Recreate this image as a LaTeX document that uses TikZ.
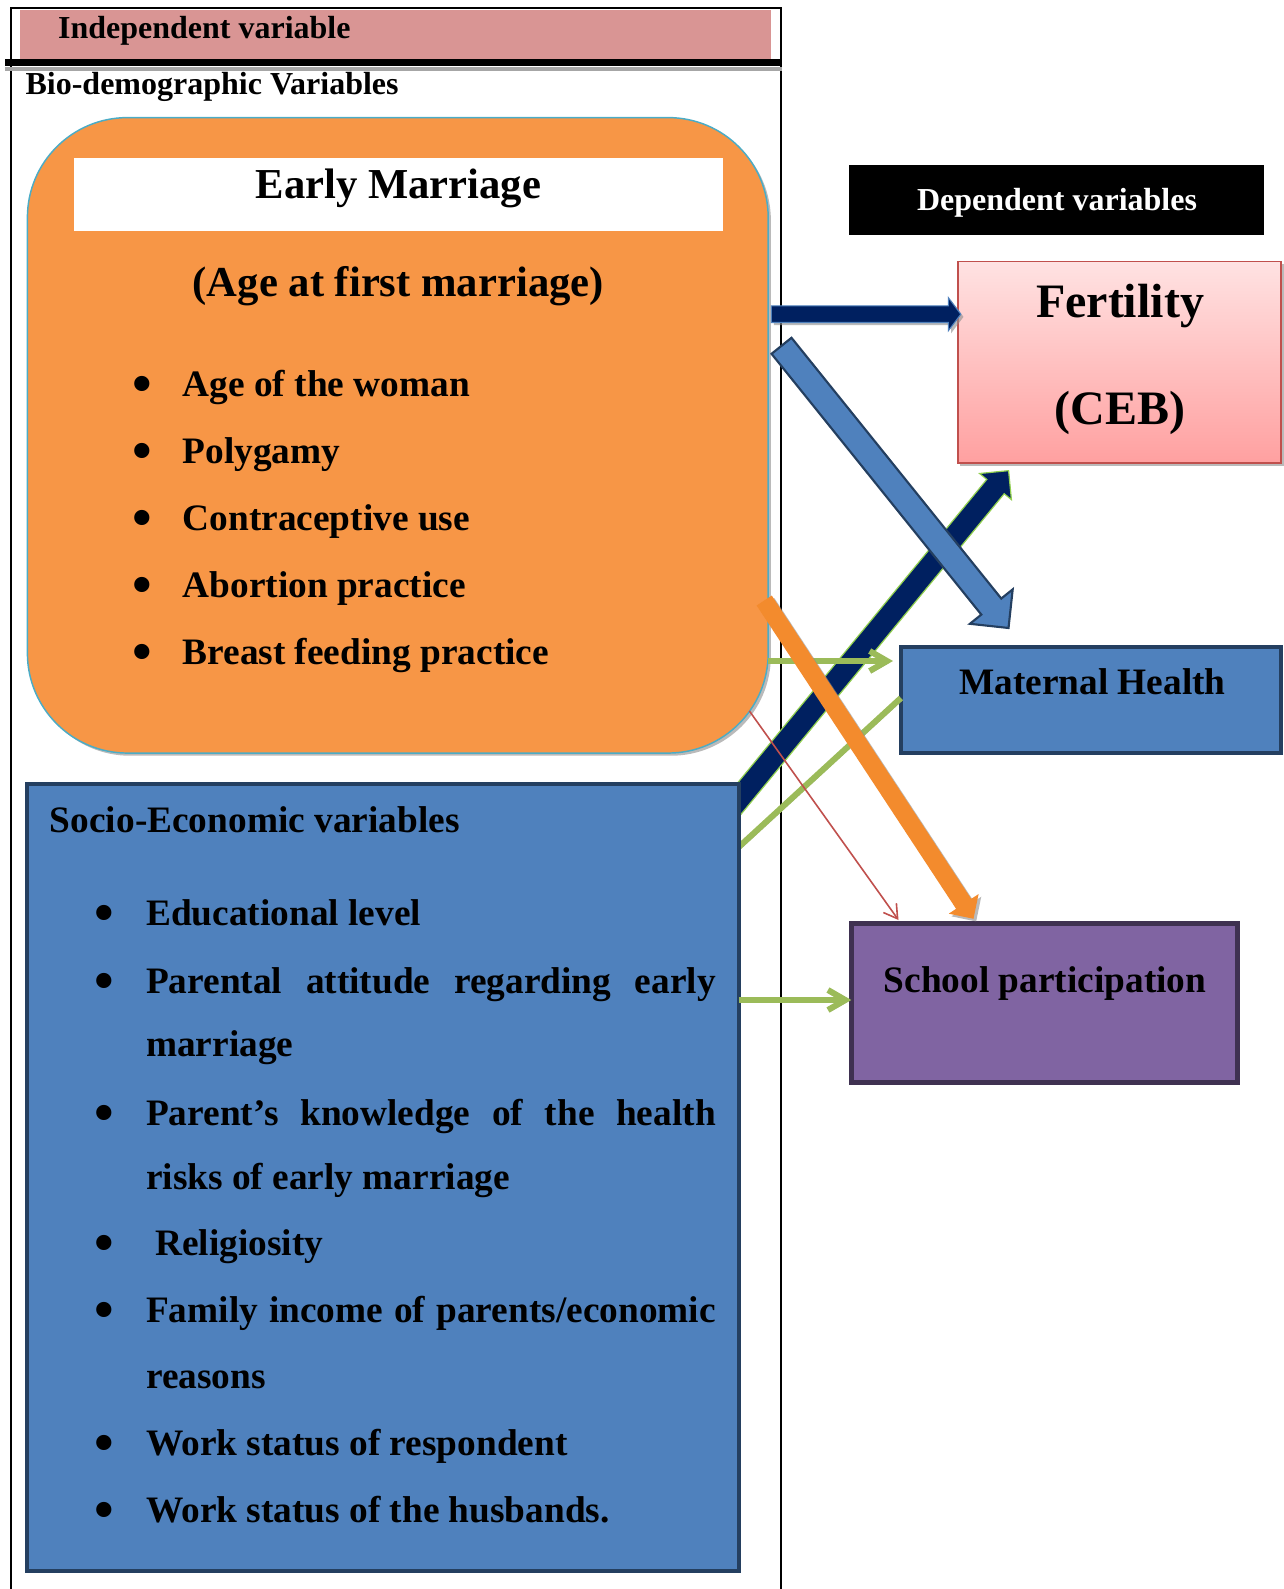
\documentclass[tikz,border=0pt]{standalone}
\usepackage{fontspec}
\setmainfont{Liberation Serif}
\usetikzlibrary{calc,shapes.arrows,shadows,arrows.meta}
\definecolor{hdrpink}{RGB}{217,149,148}
\definecolor{orangeF}{RGB}{247,150,70}
\definecolor{orangeB}{RGB}{75,172,198}
\definecolor{blueF}{RGB}{79,129,189}
\definecolor{blueB}{RGB}{36,63,96}
\definecolor{navy}{RGB}{0,32,96}
\definecolor{purpleF}{RGB}{128,100,162}
\definecolor{purpleB}{RGB}{63,49,81}
\definecolor{redB}{RGB}{192,80,77}
\definecolor{greenL}{RGB}{155,187,89}
\definecolor{greenB}{RGB}{146,208,80}
\definecolor{orangeA}{RGB}{243,139,45}
\definecolor{fertTop}{RGB}{255,226,226}
\definecolor{fertBot}{RGB}{255,160,160}
\newcommand\blockarrow[3]{\path let \p1=($(#3)-(#2)$), \n1={veclen(\x1,\y1)} in (#2) -- node[blk,#1,minimum height=\n1] {} (#3);}
\newcommand\bigbul{\raisebox{-5pt}{\scalebox{1.5}{•}}}
\begin{document}
\begin{tikzpicture}[x=0.75pt,y=-0.75pt,
  t24/.style={font=\fontsize{24}{29}\selectfont\bfseries, inner sep=0pt},
  t28/.style={font=\fontsize{28}{34}\selectfont\bfseries, inner sep=0pt},
  t32/.style={font=\fontsize{32}{38}\selectfont\bfseries, inner sep=0pt},
  t36/.style={font=\fontsize{36}{43}\selectfont\bfseries, inner sep=0pt},
  bul/.style={t28, anchor=base},
  boxn/.style={anchor=north west, inner sep=0pt, outer sep=0pt},
  shad/.style={drop shadow={shadow xshift=2pt, shadow yshift=-2pt, fill=black!45, opacity=0.6}},
  frame/.style={draw=black, line width=1.5pt},
  blk/.style={single arrow, inner xsep=0pt, minimum width=0pt, single arrow head indent=0pt, sloped, allow upside down},
  navyH/.style={fill=navy, draw=blueF, line width=0.8pt, inner ysep=5.8pt, single arrow head extend=6.2pt, single arrow tip angle=106, shad},
  blueD/.style={fill=blueF, draw=blueB, line width=1.6pt, inner ysep=8.8pt, single arrow head extend=11pt, single arrow tip angle=90},
  navyD/.style={fill=navy, draw=greenB, line width=0.9pt, inner ysep=8pt, single arrow head extend=7pt, single arrow tip angle=90},
  orangeD/.style={fill=orangeA, inner ysep=6.6pt, single arrow head extend=6.6pt, single arrow tip angle=90, shad},
  lnshadow/.style={preaction={draw=black!30, transform canvas={xshift=1.2pt,yshift=-1.5pt}}},
  greenarr/.style={draw=greenL, line width=4.5pt, lnshadow},
  redarr/.style={draw=redB, line width=1.2pt, -{Straight Barb[length=10pt,width=12pt]}},
]
\useasboundingbox (0,0) rectangle (1284,1589);

% frame and header
\fill[hdrpink] (20.3,9.5) rectangle (771.2,59);
\draw[frame] (11.1,1589) -- (11.1,8.1) -- (781.3,8.1) -- (781.3,1589);
\draw[line width=3pt, black!35] (5,69) -- (782,69);
\draw[line width=5pt, black] (5,62.7) -- (782,62.7);
\node[t24, anchor=base west] (hdr) at (57.8,38) {Independent variable};
\node[t24, anchor=base west] (biot) at (25.3,94) {Bio-demographic Variables};

% bio-demographic box
\node[boxn, shad, fill=orangeF, draw=orangeB, line width=1.1pt, rounded corners=75pt,
      minimum width=555.6pt, minimum height=476.6pt] (bio) at (27.4,117.6) {};
\node[boxn, fill=white, minimum width=486.4pt, minimum height=54.75pt] (emb) at (74,158) {};
\node[t32, anchor=base] (emt) at (398.3,198.5) {Early Marriage};
\node[t32, anchor=base] (aafm) at (398.3,296) {(Age at first marriage)};
\node[bul] (b1d) at (142,396) {\bigbul};
\node[t28, anchor=base west] (b1) at (182.4,396) {Age of the woman};
\node[bul] (b2d) at (142,463) {\bigbul};
\node[t28, anchor=base west] (b2) at (182.4,463) {Polygamy};
\node[bul] (b3d) at (142,530) {\bigbul};
\node[t28, anchor=base west] (b3) at (182.4,530) {Contraceptive use};
\node[bul] (b4d) at (142,597) {\bigbul};
\node[t28, anchor=base west] (b4) at (182.4,597) {Abortion practice};
\node[bul] (b5d) at (142,664) {\bigbul};
\node[t28, anchor=base west] (b5) at (182.4,664) {Breast feeding practice};

% dependent boxes
\node[boxn, fill=black, minimum width=310.9pt, minimum height=52.4pt] (dep) at (849.2,165.2) {};
\node[t24, anchor=base, text=white] (dept) at (1057,210) {Dependent variables};
\node[boxn, shad, top color=fertTop, bottom color=fertBot, draw=redB, line width=1.4pt,
      minimum width=242.5pt, minimum height=151.2pt] (fert) at (957.7,261.5) {};
\node[t36, anchor=base] (fertt) at (1120,317) {Fertility};
\node[t36, anchor=base] (ceb) at (1120,424) {(CEB)};
\node[boxn, fill=blueF, draw=blueB, line width=3pt, minimum width=285pt, minimum height=79.9pt] (mh) at (900.9,646.5) {};
\node[t28, anchor=base] (mht) at (1092.4,694) {Maternal Health};
\node[boxn, fill=purpleF, draw=purpleB, line width=3.5pt, minimum width=289.6pt, minimum height=119.3pt] (sp) at (851.3,923.2) {};
\node[t28, anchor=base] (spt) at (1045,992) {School participation};

% connector end points
\coordinate (a1s) at (768.2,314.2);  \coordinate (a1e) at (957.7,314.2);
\coordinate (a2s) at (777.5,340.8);  \coordinate (a2e) at (1004.5,623);
\coordinate (a3s) at (725,816);      \coordinate (a3e) at (1005,475);
\coordinate (a4s) at (761.7,596.7);  \coordinate (a4e) at (971,915);
\coordinate (g1s) at (768.2,661);    \coordinate (g1e) at (893,661);
\coordinate (g2s) at (738.8,847);    \coordinate (g2e) at (900.9,698);
\coordinate (r1s) at (749.4,711);    \coordinate (r1e) at (898.5,920);
\coordinate (g3s) at (738.8,1000);   \coordinate (g3e) at (851.3,1000);

% arrows
\blockarrow{navyH}{a1s}{a1e}
\blockarrow{navyD}{a3s}{a3e}
\blockarrow{blueD}{a2s}{a2e}
\draw[greenarr, -{Straight Barb[length=13pt,width=15pt]}] (g1s) -- (g1e);
\draw[greenarr] (g2s) -- (g2e);
\draw[redarr] (r1s) -- (r1e);
\blockarrow{orangeD}{a4s}{a4e}

% socio-economic box
\node[boxn, fill=blueF, draw=blueB, line width=3pt, minimum width=533.6pt, minimum height=589.8pt] (soc) at (27.4,784.4) {};
\node[t28, anchor=base west] (soct) at (49.7,832) {Socio-Economic variables};
\node[bul] (s1d) at (104.5,925) {\bigbul};
\node[t28, anchor=base west] (s1) at (145.9,925) {Educational level};
\node[bul] (s2d) at (104.5,993) {\bigbul};
\node[t28, anchor=base west] (s2) at (145.9,993) {\makebox[427.2pt][s]{Parental attitude regarding early}};
\node[t28, anchor=base west] (s2b) at (145.9,1056) {marriage};
\node[bul] (s3d) at (104.5,1125) {\bigbul};
\node[t28, anchor=base west] (s3) at (145.9,1125) {\makebox[427.2pt][s]{Parent’s knowledge of the health}};
\node[t28, anchor=base west] (s3b) at (145.9,1189) {risks of early marriage};
\node[bul] (s4d) at (104.5,1255) {\bigbul};
\node[t28, anchor=base west] (s4) at (155,1255) {Religiosity};
\node[bul] (s5d) at (104.5,1322) {\bigbul};
\node[t28, anchor=base west] (s5) at (145.9,1322) {\makebox[427.2pt][s]{Family income of parents/economic}};
\node[t28, anchor=base west] (s5b) at (145.9,1388) {reasons};
\node[bul] (s6d) at (104.5,1455) {\bigbul};
\node[t28, anchor=base west] (s6) at (145.9,1455) {Work status of respondent};
\node[bul] (s7d) at (104.5,1522) {\bigbul};
\node[t28, anchor=base west] (s7) at (145.9,1522) {Work status of the husbands.};

\draw[greenarr, -{Straight Barb[length=13pt,width=15pt]}] (g3s) -- (g3e);
\end{tikzpicture}
\end{document}
